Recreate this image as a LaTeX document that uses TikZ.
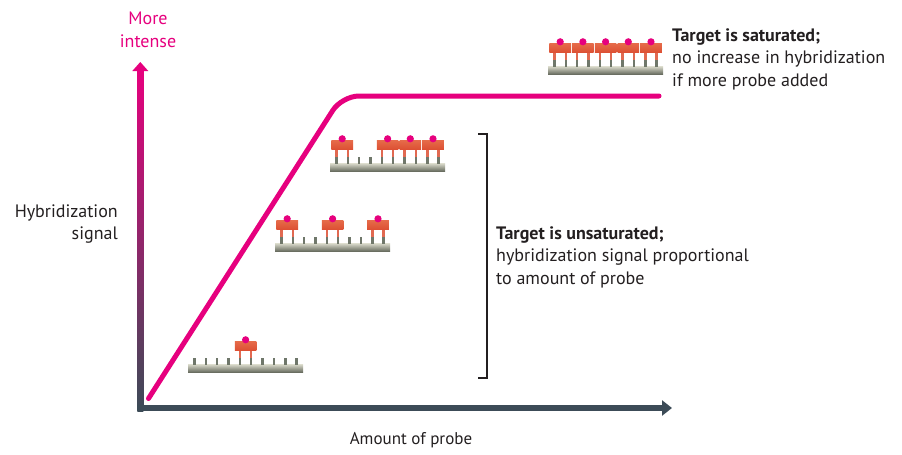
\documentclass[tikz,border=0pt]{standalone}
\usepackage{fontspec}
\usetikzlibrary{arrows.meta}
\setmainfont{PT Sans}
\definecolor{signalpink}{HTML}{E6007E}
\definecolor{axisslate}{HTML}{3C4B57}
\definecolor{textgrey}{HTML}{231F20}
\definecolor{barlight}{HTML}{D2D3C4}
\definecolor{barmid}{HTML}{A4A594}
\definecolor{bardark}{HTML}{5E6356}
\definecolor{toothgrey}{HTML}{6F776A}
\definecolor{probered}{HTML}{DC4E32}
\definecolor{probetop}{HTML}{E56A48}
\definecolor{probelight}{HTML}{F7B090}
\tikzset{
  dnabar/.style={top color=barlight, middle color=barmid, bottom color=bardark},
  tooth/.style={fill=toothgrey},
  leg/.style={fill=probered!85!white},
  probe/.style={top color=probetop, middle color=probelight, bottom color=probered},
  probedot/.style={fill=signalpink},
  lbl/.style={text=textgrey, font=\fontsize{18}{22.5}\selectfont, inner sep=0pt},
}
% one target strand, #1 = pairs of teeth that carry a probe
\newcommand{\target}[1]{\tikz[x=1pt,y=1pt]{%
  \shade[dnabar] (0,0) rectangle (115,8);
  \foreach \t in {0,...,9} {\fill[tooth] ({5.1+11.35*\t},8) rectangle ++(2.4,7);}
  \foreach \p in {#1} {
    \fill[leg] ({5.1+22.7*(\p-1)},15) rectangle ++(2.4,7);
    \fill[leg] ({16.45+22.7*(\p-1)},15) rectangle ++(2.4,7);
    \shade[probe] ({1.2+22.7*(\p-1)},22) rectangle ++(21.6,9);
    \fill[probedot] ({12+22.7*(\p-1)},33) circle (3.6);
  }}}

\begin{document}
\begin{tikzpicture}[x=1pt,y=-1pt]
\useasboundingbox (0,0) rectangle (902,455);
\coordinate (O) at (140,408);
\coordinate (ytip) at (140.3,62);
\coordinate (xtip) at (672,408);
%%%% axes
\shade[top color=signalpink, bottom color=axisslate] (137.3,70) rectangle (143.3,411);
\fill[signalpink] (132.3,71) -- (ytip) -- (148.3,71) -- cycle;
\draw[axisslate, line width=5.5pt, -{Triangle[length=10pt,width=15pt]}] (137.3,408) -- (xtip);
%%%% signal curve
\coordinate (c0) at (148.5,398.5);
\coordinate (knee) at (342,96);
\coordinate (c1) at (659,96);
\draw[signalpink, line width=5pt, line cap=round, rounded corners=17pt] (c0) -- (knee) -- (c1);
%%%% target strands
\node[anchor=south west, inner sep=0pt] (s1) at (188,373) {\target{3}};
\node[anchor=south west, inner sep=0pt] (s2) at (275,252) {\target{1,3,5}};
\node[anchor=south west, inner sep=0pt] (s3) at (330,172) {\target{1,3,4,5}};
\node[anchor=south west, inner sep=0pt] (s4) at (548,75) {\target{1,2,3,4,5}};
%%%% bracket
\coordinate (b0) at (478,134);
\coordinate (b1) at (487,134);
\coordinate (b2) at (487,378);
\coordinate (b3) at (478,378);
\draw[textgrey, line width=1.1pt] (b0) -- (b1) -- (b2) -- (b3);
%%%% labels
\node[lbl, text=signalpink, align=center] (more) at (148,30) {More\\intense};
\node[lbl, align=right, anchor=east] (ylabel) at (118,224) {Hybridization\\signal};
\node[lbl, font=\fontsize{17}{22}\selectfont] (xlabel) at (411,440) {Amount of probe};
\node[lbl, align=left, anchor=west] (unsat) at (496,257) {\textbf{Target is unsaturated;}\\hybridization signal proportional\\to amount of probe};
\node[lbl, align=left, anchor=west] (sat) at (672,59) {\textbf{Target is saturated;}\\no increase in hybridization\\if more probe added};
\end{tikzpicture}
\end{document}
